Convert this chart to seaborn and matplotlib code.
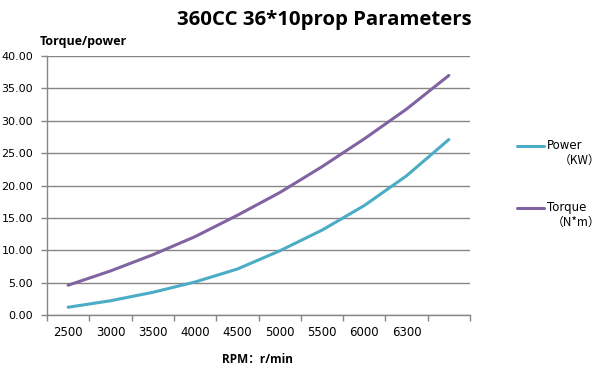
import numpy as np
import pandas as pd
import matplotlib
matplotlib.use('Agg')
import matplotlib.pyplot as plt
import seaborn as sns
from matplotlib.lines import Line2D

# Data
rpm_labels = ['2500', '3000', '3500', '4000', '4500', '5000', '5500', '6000', '6300', '']
power_kw = [1.2, 2.2, 3.5, 5.1, 7.1, 9.9, 13.1, 16.9, 21.5, 27.1]
torque_nm = [4.6, 6.8, 9.3, 12.1, 15.4, 18.9, 22.9, 27.2, 31.8, 37.0]
series_names = ['Power', 'Torque']
series_units = ['（KW）', '（N*m）']

POWER_COLOR = '#4BACC6'
TORQUE_COLOR = '#8064A2'
GRID_COLOR = '#868686'

sns.set_style('white')
plt.rcParams['font.family'] = ['DejaVu Sans', 'Noto Sans CJK SC']
plt.rcParams['text.color'] = 'black'
plt.rcParams['xtick.labelcolor'] = 'black'
plt.rcParams['ytick.labelcolor'] = 'black'

pos = np.arange(len(rpm_labels))
df = pd.DataFrame({
    'pos': np.concatenate([pos, pos]),
    'value': power_kw + torque_nm,
    'series': [series_names[0]] * len(pos) + [series_names[1]] * len(pos),
})
palette = {'Power': POWER_COLOR, 'Torque': TORQUE_COLOR}

fig = plt.figure(figsize=(6.07, 3.75), dpi=100)
ax = fig.add_axes([47 / 607, 1 - 315 / 375, (470 - 47) / 607, (315 - 56) / 375])

sns.lineplot(data=df, x='pos', y='value', hue='series', palette=palette,
             linewidth=2.2, legend=False, ax=ax)

ax.set_xlim(-0.5, len(pos) - 0.5)
ax.set_ylim(0, 40)
ax.set_yticks(np.arange(0, 41, 5))
ax.set_yticklabels([f'{v:.2f}' for v in np.arange(0, 41, 5)], fontsize=8)
ax.yaxis.grid(True, color=GRID_COLOR, linewidth=1)
ax.set_axisbelow(True)

# category labels centred, tick marks on category boundaries
ax.set_xticks(pos)
ax.set_xticklabels(rpm_labels, fontsize=8.5)
ax.set_xticks(np.arange(-0.5, len(pos), 1), minor=True)
ax.tick_params(axis='x', which='major', length=0, pad=8)
ax.tick_params(axis='x', which='minor', length=4, color=GRID_COLOR, width=1, direction='out')
ax.tick_params(axis='y', length=4, color=GRID_COLOR, width=1, direction='out', pad=6)
ax.xaxis.set_ticks_position('bottom')
ax.yaxis.set_ticks_position('left')

for side in ['top', 'right']:
    ax.spines[side].set_visible(False)
for side in ['left', 'bottom']:
    ax.spines[side].set_color(GRID_COLOR)
    ax.spines[side].set_linewidth(1)

ax.set_xlabel('')
ax.set_ylabel('')

fig.text(324 / 607, 1 - 20 / 375, '360CC 36*10prop Parameters', ha='center', va='center',
         fontsize=14.7, fontweight='bold', family=['Open Sans', 'DejaVu Sans'])
fig.text(40 / 607, 1 - 41 / 375, 'Torque/power', ha='left', va='center',
         fontsize=9, fontweight='bold', family=['Open Sans', 'DejaVu Sans'])
fig.text(222 / 607, 1 - 359 / 375, 'RPM：r/min', ha='left', va='center',
         fontsize=8.5, fontweight='bold', family=['Open Sans', 'Noto Sans CJK SC'])

# legend drawn by hand: line next to the name, unit on the line below
legend_y = [146, 208]
unit_x = [580, 576]
for name, unit, ly, ux in zip(series_names, series_units, legend_y, unit_x):
    fig.add_artist(Line2D([517 / 607, 544 / 607], [1 - ly / 375, 1 - ly / 375],
                          color=palette[name], linewidth=2.2, transform=fig.transFigure))
    fig.text(547 / 607, 1 - (ly - 1) / 375, name, ha='left', va='center', fontsize=8.5)
    fig.text(ux / 607, 1 - (ly + 14) / 375, unit, ha='center', va='center', fontsize=8.5,
             family=['Noto Sans CJK SC', 'DejaVu Sans'])

fig.savefig('out.png', dpi=100)
